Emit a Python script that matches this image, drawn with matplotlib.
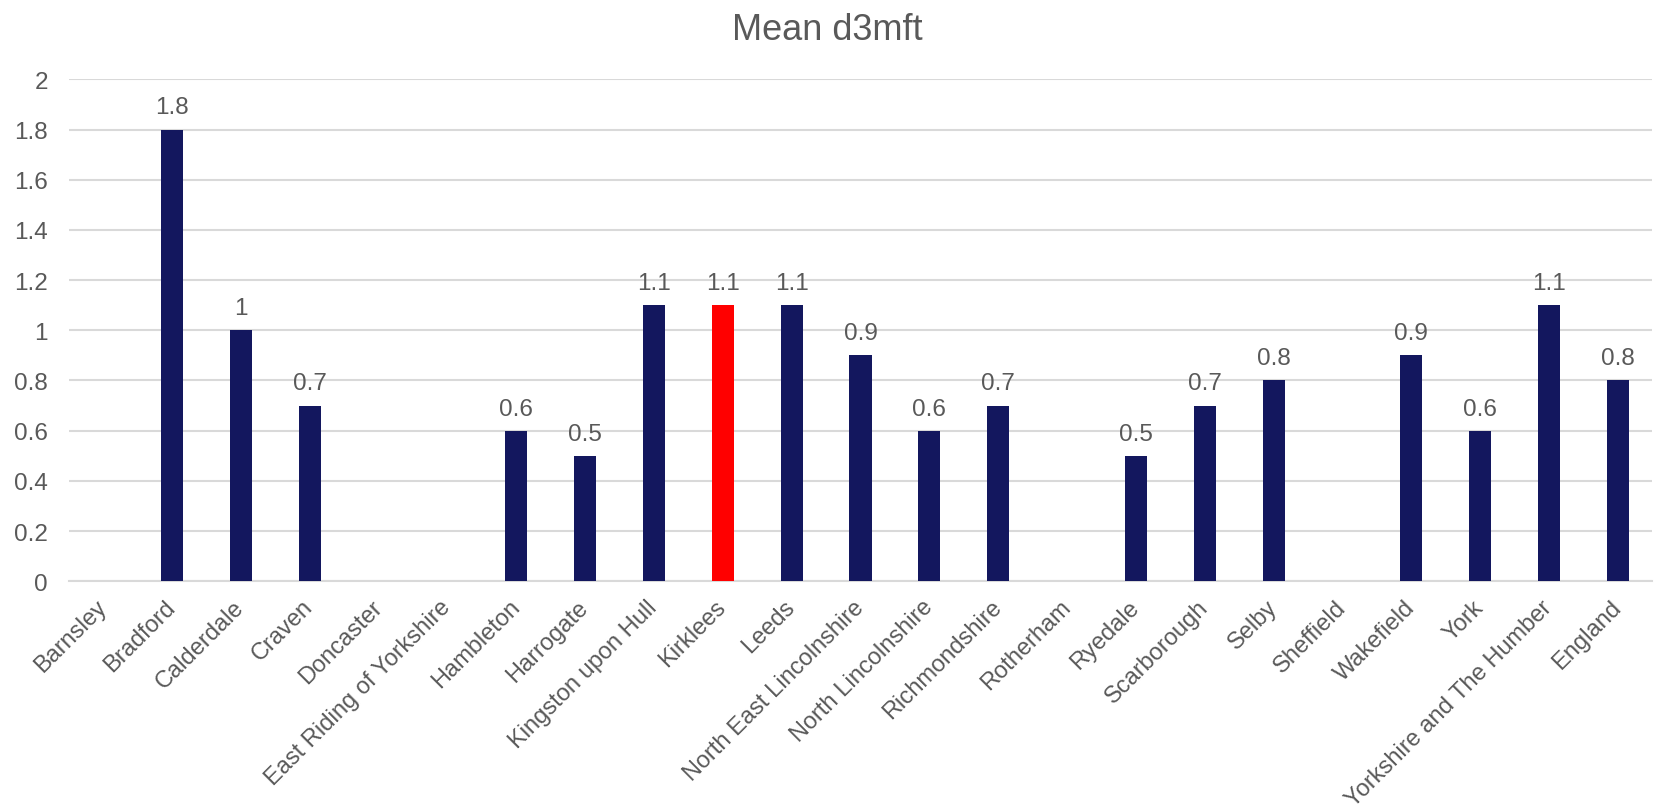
import numpy as np
import matplotlib
matplotlib.use("Agg")
import matplotlib.pyplot as plt

plt.rcParams['font.family'] = ['Liberation Sans', 'DejaVu Sans']

areas = ["Barnsley", "Bradford", "Calderdale", "Craven", "Doncaster",
         "East Riding of Yorkshire", "Hambleton", "Harrogate",
         "Kingston upon Hull", "Kirklees", "Leeds", "North East Lincolnshire",
         "North Lincolnshire", "Richmondshire", "Rotherham", "Ryedale",
         "Scarborough", "Selby", "Sheffield", "Wakefield", "York",
         "Yorkshire and The Humber", "England"]
mean_d3mft = [np.nan, 1.8, 1.0, 0.7, np.nan, np.nan, 0.6, 0.5, 1.1, 1.1, 1.1,
              0.9, 0.6, 0.7, np.nan, 0.5, 0.7, 0.8, np.nan, 0.9, 0.6, 1.1, 0.8]
highlight = "Kirklees"

navy = "#13175E"
red = "#FF0000"
text_grey = "#595959"
grid_grey = "#D9D9D9"

fig = plt.figure(figsize=(16.54, 8.12), dpi=100)
ax = fig.add_axes([0.0415, 0.283, 0.9575, 0.618])

x = np.arange(len(areas))
colors = [red if a == highlight else navy for a in areas]
vals = np.array(mean_d3mft, dtype=float)
bars = ax.bar(x, np.nan_to_num(vals), width=0.32, color=colors, zorder=3)

for xi, v in zip(x, vals):
    if not np.isnan(v):
        ax.annotate(f"{v:g}", (xi, v), xytext=(0, 8), textcoords="offset points",
                    ha="center", va="bottom", fontsize=17.5, color=text_grey)

ax.set_xlim(-0.5, len(areas) - 0.5)
ax.set_ylim(0, 2)
ax.set_yticks(np.arange(0, 2.01, 0.2))
ax.set_yticklabels([f"{t:g}" for t in np.arange(0, 2.01, 0.2).round(1)])
ax.yaxis.grid(True, color=grid_grey, linewidth=1.5, zorder=0)
ax.set_axisbelow(True)
for s in ["top", "right", "left"]:
    ax.spines[s].set_visible(False)
ax.spines["bottom"].set_color(grid_grey)
ax.spines["bottom"].set_linewidth(1.5)
ax.tick_params(axis="both", length=0, labelsize=17.5, colors=text_grey)
ax.tick_params(axis="y", pad=15)

ax.set_xticks(x)
ax.set_xticklabels(areas, rotation=45, ha="right", va="center",
                   rotation_mode="anchor", fontsize=17)
ax.tick_params(axis="x", pad=16)

fig.text(0.5, 0.963, "Mean d3mft", ha="center", va="center", fontsize=26,
         color=text_grey)

fig.savefig("out.png", dpi=100)
